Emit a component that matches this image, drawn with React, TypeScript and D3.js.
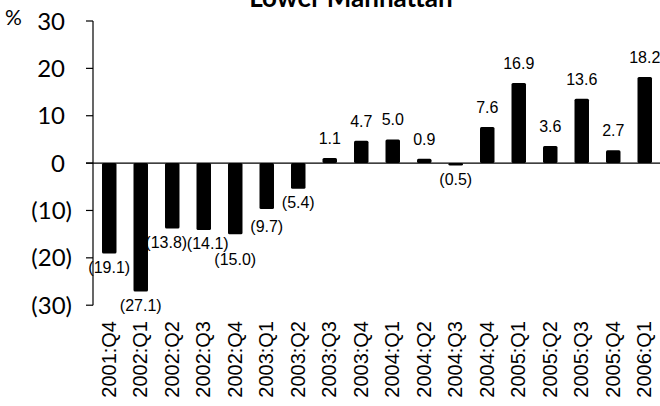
import React from "react";
import * as d3 from "d3";

// Quarterly change, Lower Manhattan (%)
const quarters = [
  "2001:Q4", "2002:Q1", "2002:Q2", "2002:Q3", "2002:Q4",
  "2003:Q1", "2003:Q2", "2003:Q3", "2003:Q4",
  "2004:Q1", "2004:Q2", "2004:Q3", "2004:Q4",
  "2005:Q1", "2005:Q2", "2005:Q3", "2005:Q4",
  "2006:Q1",
];
const changes = [
  -19.1, -27.1, -13.8, -14.1, -15.0,
  -9.7, -5.4, 1.1, 4.7,
  5.0, 0.9, -0.5, 7.6,
  16.9, 3.6, 13.6, 2.7,
  18.2,
];
const yTicks = [30, 20, 10, 0, -10, -20, -30];
const title = "Lower Manhattan";

// small hand nudges for crowded value labels: [dx, dy]
const labelNudge: Record<string, [number, number]> = {
  "2002:Q2": [-6, 0],
  "2002:Q3": [4, 0],
  "2002:Q4": [0, 11],
  "2003:Q1": [0, 3],
};

const W = 660;
const H = 406;
const AXIS_X = 93;

const fmt = (v: number) =>
  v < 0 ? `(${Math.abs(v).toFixed(1)})` : v.toFixed(1);
const fmtTick = (v: number) => (v < 0 ? `(${Math.abs(v)})` : `${v}`);

export default function App() {
  const x = d3
    .scaleBand<string>()
    .domain(quarters)
    .range([AXIS_X + 0.5, W + 0.5])
    .paddingInner(0.54)
    .paddingOuter(0.27);
  const y = d3.scaleLinear().domain([-30, 30]).range([305.2, 21]);
  const y0 = y(0);

  const tickFont = "Lato, 'Open Sans', sans-serif";
  const labelFont = "'Liberation Sans', Arial, sans-serif";

  return (
    <svg
      width={W}
      height={H}
      viewBox={`0 0 ${W} ${H}`}
      style={{ position: "absolute", left: 0, top: 0, background: "#fff" }}
    >
      <text
        x={351}
        y={7}
        textAnchor="middle"
        fontFamily={tickFont}
        fontWeight={700}
        fontSize={26}
        fill="#000"
      >
        {title}
      </text>

      <text x={5} y={25} fontFamily={tickFont} fontSize={21} fill="#000">
        %
      </text>

      {/* y axis */}
      <line x1={AXIS_X} x2={AXIS_X} y1={y(30)} y2={y(-30)} stroke="#000" strokeWidth={1.2} />
      {yTicks.map((t) => (
        <g key={t}>
          <line x1={AXIS_X - 7} x2={AXIS_X} y1={y(t)} y2={y(t)} stroke="#000" strokeWidth={1.2} />
          <text
            x={t < 0 ? 72 : 65}
            y={y(t) + 8.5}
            textAnchor="end"
            fontFamily={tickFont}
            fontSize={24}
            fill="#000"
          >
            {fmtTick(t)}
          </text>
        </g>
      ))}

      {/* bars */}
      {quarters.map((q, i) => {
        const v = changes[i];
        const top = Math.min(y(v), y0);
        const h = Math.abs(y(v) - y0);
        return (
          <rect
            key={q}
            x={x(q)}
            y={top}
            width={x.bandwidth()}
            height={h}
            rx={1.5}
            fill="#000"
          />
        );
      })}

      {/* zero line */}
      <line x1={AXIS_X - 7} x2={W} y1={y0} y2={y0} stroke="#000" strokeWidth={1.2} />

      {/* value labels */}
      {quarters.map((q, i) => {
        const v = changes[i];
        const cx = (x(q) ?? 0) + x.bandwidth() / 2;
        const [dx, dy] = labelNudge[q] ?? [0, 0];
        const ly = v < 0 ? y(v) + 19.5 : y(v) - 14;
        return (
          <text
            key={q}
            x={cx + dx}
            y={ly + dy}
            textAnchor="middle"
            fontFamily={labelFont}
            fontSize={16}
            fill="#000"
          >
            {fmt(v)}
          </text>
        );
      })}

      {/* category labels */}
      {quarters.map((q) => {
        const cx = (x(q) ?? 0) + x.bandwidth() / 2;
        return (
          <text
            key={q}
            transform={`translate(${cx + 6.5},321) rotate(-90)`}
            textAnchor="end"
            fontFamily={labelFont}
            fontSize={20}
            fill="#000"
          >
            {q}
          </text>
        );
      })}
    </svg>
  );
}
